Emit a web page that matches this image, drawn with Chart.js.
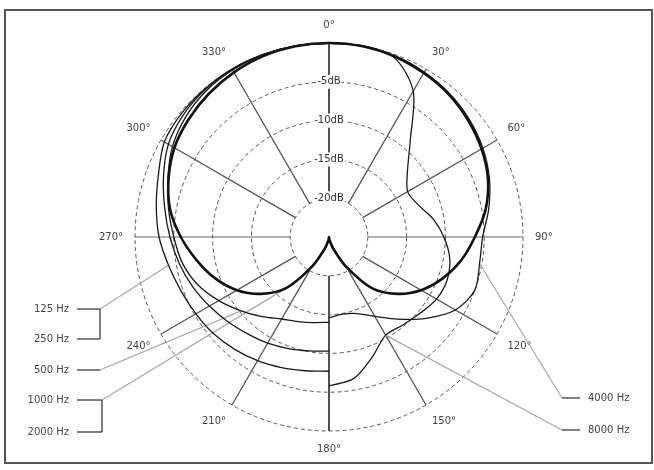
<!DOCTYPE html>
<html>
<head>
<meta charset="utf-8">
<script src="https://cdn.jsdelivr.net/npm/chart.js@4.4.1/dist/chart.umd.min.js"></script>
<style>
  html, body { margin: 0; padding: 0; background: #fff; }
  #wrap { position: relative; width: 654px; height: 470px; }
  #frame { position: absolute; left: 4px; top: 9px; width: 649px; height: 455px;
           border: 2px solid #555; box-sizing: border-box; pointer-events: none; }
  canvas { position: absolute; left: 0; top: 0; }
</style>
</head>
<body>
<div id="wrap">
  <canvas id="polar" width="654" height="470"></canvas>
  <div id="frame"></div>
</div>
<script>
// angle of every sample, 0° at the top, clockwise
const angles = [0, 10, 20, 30, 40, 50, 60, 70, 80, 90, 100, 110, 120, 130, 140, 150, 160, 170,
                180, 190, 200, 210, 220, 230, 240, 250, 260, 270, 280, 290, 300, 310, 320, 330, 340, 350];
const angleLabels = angles.map((a) => (a % 30 === 0 ? a + "°" : ""));
const dbTicks = [-20, -15, -10, -5];
const freqLabels = ["125 Hz", "250 Hz", "500 Hz", "1000 Hz", "2000 Hz", "4000 Hz", "8000 Hz"];

// relative level in dB (null = half not drawn)
const hz125 = [0, null, null, null, null, null, null, null, null, null, null, null, null, null, null, null, null, null,
               -7.7, -7.5, -7.1, -6.6, -6.1, -5.6, -5.2, -4.7, -4.0, -3.1, -2.4, -1.6, -0.5, -0.2, -0.1, 0, 0, 0];
const hz250 = [0, null, null, null, null, null, null, null, null, null, null, null, null, null, null, null, null, null,
               -10.3, -10.1, -9.7, -9.2, -8.7, -8.0, -7.2, -6.3, -5.4, -4.5, -3.5, -2.3, -1.1, -0.5, -0.2, -0.05, 0, 0];
const hz500 = [0, null, null, null, null, null, null, null, null, null, null, null, null, null, null, null, null, null,
               -14.0, -13.8, -13.4, -12.8, -11.6, -10.2, -8.6, -7.0, -5.8, -5.0, -4.0, -2.9, -1.7, -0.9, -0.4, -0.15, -0.05, 0];
const hz1000 = [0, -0.05, -0.25, -0.6, -1.0, -1.6, -2.3, -3.2, -4.5, -6.2, -7.7, -9.4, -11.3, -13.6, -16.4, -20.6, -23.4, -24.6,
                -25, -24.6, -23.4, -20.6, -16.4, -13.6, -11.3, -9.4, -7.7, -5.9, -4.2, -3.0, -2.0, -1.4, -0.9, -0.5, -0.2, -0.05];
const hz4000 = [0, 0, -0.15, -0.45, -0.85, -1.4, -2.1, -3.0, -4.1, -5.2, -5.3, -5.0, -6.2, -8.7, -11.2, -13.2, -14.5, -14.9,
                -14.6, null, null, null, null, null, null, null, null, null, null, null, null, null, null, null, null, null];
const hz8000 = [0, 0, -0.4, -3.3, -8.7, -11.8, -13.3, -12.8, -11.4, -10.2, -9.2, -8.8, -9.0, -9.7, -10.2, -10.4, -8.6, -6.5,
                -5.8, null, null, null, null, null, null, null, null, null, null, null, null, null, null, null, null, null];

const thin = { borderColor: "#1a1a1a", borderWidth: 1.3, fill: false, pointRadius: 0, tension: 0.3 };

// radial spokes every 30°, from the -20 dB ring outwards
const spokes = {
  id: "spokes",
  beforeDraw(chart) {
    const s = chart.scales.r;
    const ctx = chart.ctx;
    const r0 = s.getDistanceFromCenterForValue(-20);
    const r1 = s.getDistanceFromCenterForValue(0);
    ctx.save();
    angles.forEach((a, i) => {
      if (a % 30) return;
      const p0 = s.getPointPosition(i, r0);
      const p1 = s.getPointPosition(i, r1);
      ctx.strokeStyle = a % 180 === 0 ? "#222" : a % 90 === 0 ? "#9a9a9a" : "#555";
      ctx.lineWidth = a % 180 === 0 ? 1.6 : 1.3;
      ctx.beginPath();
      ctx.moveTo(p0.x, p0.y);
      ctx.lineTo(p1.x, p1.y);
      ctx.stroke();
    });
    ctx.restore();
  },
};

// frequency captions with brackets and leader lines to the curves
const notes = {
  id: "notes",
  beforeDatasetsDraw(chart) {
    const ctx = chart.ctx;
    const pt = (ds, i) => chart.getDatasetMeta(ds).data[i];
    const line = (x0, y0, x1, y1, color) => {
      ctx.strokeStyle = color;
      ctx.beginPath();
      ctx.moveTo(x0, y0);
      ctx.lineTo(x1, y1);
      ctx.stroke();
    };
    ctx.save();
    ctx.lineWidth = 1.2;
    // leaders (light)
    const lead = "#a8a8a8";
    let p = pt(0, 26); line(100, 309, p.x, p.y, lead);
    p = pt(2, 23); line(100, 370, p.x, p.y, lead);
    p = pt(3, 22); line(102, 400, p.x, p.y, lead);
    p = pt(4, 10); line(562, 398, p.x, p.y, lead);
    p = pt(5, 15); line(562, 430, p.x, p.y, lead);
    // brackets
    const br = "#555";
    ctx.lineWidth = 1.5;
    line(77, 309, 100, 309, br); line(77, 339, 100, 339, br); line(100, 309, 100, 339, br);
    line(77, 370, 100, 370, br);
    line(77, 400, 102, 400, br); line(77, 432, 102, 432, br); line(102, 400, 102, 432, br);
    line(562, 398, 580, 398, br);
    line(562, 430, 580, 430, br);
    // captions
    ctx.font = '10px "DejaVu Sans"';
    ctx.fillStyle = "#444";
    ctx.textBaseline = "middle";
    ctx.textAlign = "right";
    ctx.fillText(freqLabels[0], 69, 309);
    ctx.fillText(freqLabels[1], 69, 339);
    ctx.fillText(freqLabels[2], 69, 370);
    ctx.fillText(freqLabels[3], 69, 400);
    ctx.fillText(freqLabels[4], 69, 432);
    ctx.textAlign = "left";
    ctx.fillText(freqLabels[5], 588, 398);
    ctx.fillText(freqLabels[6], 588, 430);
    ctx.restore();
  },
};

new Chart(document.getElementById("polar"), {
  type: "radar",
  data: {
    labels: angleLabels,
    datasets: [
      { label: "125 Hz", data: hz125, ...thin },
      { label: "250 Hz", data: hz250, ...thin },
      { label: "500 Hz", data: hz500, ...thin },
      { label: "1000 Hz / 2000 Hz", data: hz1000, ...thin, borderColor: "#111", borderWidth: 2.6 },
      { label: "4000 Hz", data: hz4000, ...thin },
      { label: "8000 Hz", data: hz8000, ...thin },
    ],
  },
  options: {
    responsive: false,
    animation: false,
    layout: { padding: { left: 4, right: 0, top: 19, bottom: 15 } },
    scales: {
      r: {
        min: -25,
        max: 0,
        ticks: {
          stepSize: 5,
          callback: (v) => (dbTicks.includes(v) ? v + "dB" : ""),
          color: "#333",
          font: { family: "DejaVu Sans", size: 10 },
          backdropColor: (c) => (c.tick && dbTicks.includes(c.tick.value) ? "#fff" : "rgba(0,0,0,0)"),
          backdropPadding: { x: 1, y: 2 },
        },
        grid: { circular: true, color: "#555", lineWidth: 1 },
        border: { dash: [4, 3] },
        angleLines: { display: false },
        pointLabels: {
          color: "#444",
          padding: 5,
          font: { family: "DejaVu Sans", size: 10 },
        },
      },
    },
    plugins: {
      legend: { display: false },
      tooltip: { enabled: false },
    },
  },
  plugins: [spokes, notes],
});
</script>
</body>
</html>
